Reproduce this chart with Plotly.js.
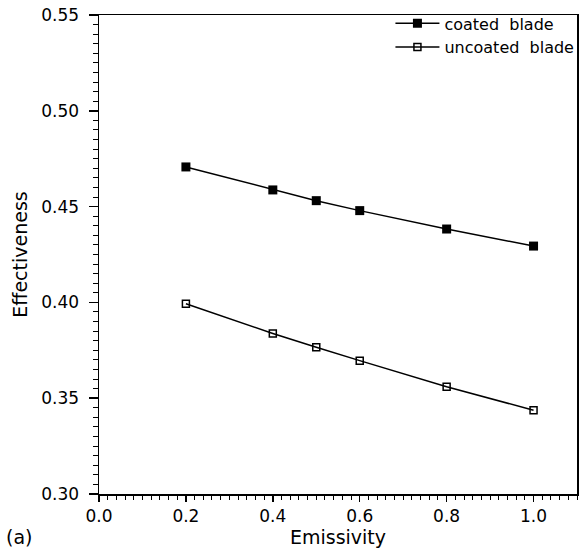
<!DOCTYPE html>
<html><head><meta charset="utf-8">
<script src="https://cdn.plot.ly/plotly-3.0.1.min.js"></script>
<style>body{margin:0;background:#fff}#c{width:582px;height:548px}</style>
</head><body><div id="c"></div>
<script>
const emissivity = [0.2, 0.4, 0.5, 0.6, 0.8, 1.0];
const coated = [0.4707, 0.4587, 0.4531, 0.4479, 0.4383, 0.4294];
const uncoated = [0.3993, 0.3838, 0.3766, 0.3696, 0.3560, 0.3437];
const seriesNames = ['coated  blade', 'uncoated  blade'];

const font = {family: 'DejaVu Sans, Liberation Sans, sans-serif', color: '#000'};
const traces = [
  {x: emissivity, y: coated, name: seriesNames[0], mode: 'lines+markers',
   line: {color: '#000', width: 1.5},
   marker: {symbol: 'square', size: 9, color: '#000'}},
  {x: emissivity, y: uncoated, name: seriesNames[1], mode: 'lines+markers',
   line: {color: '#000', width: 1.5},
   marker: {symbol: 'square-open', size: 7, color: '#000', line: {width: 1.5}}}
];
const layout = {
  width: 582, height: 548,
  margin: {l: 99, r: 4, t: 15, b: 54},
  paper_bgcolor: '#fff', plot_bgcolor: '#fff',
  font: Object.assign({size: 17}, font),
  showlegend: true,
  legend: {x: 1.003, xanchor: 'right', y: 1.018, yanchor: 'top', bgcolor: 'rgba(0,0,0,0)',
           font: Object.assign({size: 16}, font), tracegroupgap: 0, itemwidth: 44},
  xaxis: {range: [0, 1.1], tickvals: [0, 0.2, 0.4, 0.6, 0.8, 1.0],
          ticktext: ['0.0', '0.2', '0.4', '0.6', '0.8', '1.0'],
          ticks: 'outside', ticklen: 6, tickwidth: 1.5, tickcolor: '#000',
          minor: {dtick: 0.02, tick0: 0, ticks: 'outside', ticklen: 4, tickwidth: 1, tickcolor: '#000', showgrid: false},
          showline: true, linecolor: '#000', linewidth: 1.5, mirror: true, showgrid: false, zeroline: false,
          title: {text: 'Emissivity', font: Object.assign({size: 19}, font), standoff: 3},
          tickfont: Object.assign({size: 17}, font)},
  yaxis: {range: [0.30, 0.55], tickvals: [0.30, 0.35, 0.40, 0.45, 0.50, 0.55],
          ticktext: ['0.30', '0.35', '0.40', '0.45', '0.50', '0.55'],
          ticks: 'outside', ticklen: 9, tickwidth: 1.5, tickcolor: '#000', ticklabelstandoff: 6,
          minor: {dtick: 0.005, tick0: 0.30, ticks: 'outside', ticklen: 5, tickwidth: 1, tickcolor: '#000', showgrid: false},
          showline: true, linecolor: '#000', linewidth: 1.5, mirror: true, showgrid: false, zeroline: false,
          title: {text: 'Effectiveness', font: Object.assign({size: 19}, font), standoff: 8},
          tickfont: Object.assign({size: 17}, font)},
  annotations: [{text: '(a)', xref: 'paper', yref: 'paper', x: -0.198, y: -0.09,
                 xanchor: 'left', yanchor: 'middle', showarrow: false,
                 font: Object.assign({size: 19}, font)}]
};
Plotly.newPlot('c', traces, layout, {displayModeBar: false, staticPlot: true});
</script></body></html>
